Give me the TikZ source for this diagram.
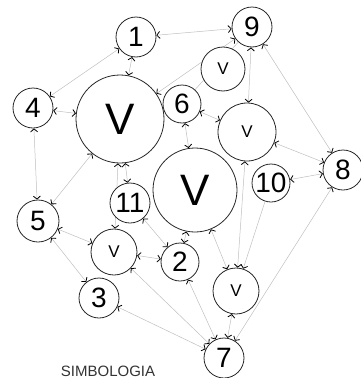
\documentclass[tikz,border=0pt]{standalone}
\usepackage{fontspec}
\setmainfont{Liberation Sans}
\usetikzlibrary{arrows.meta,backgrounds}
\begin{document}
\begin{tikzpicture}[x=1pt,y=-1pt,
  vtx/.style={circle,draw=black!85,line width=0.8pt,fill=white,inner sep=0pt,minimum size=#1},
  num/.style={font=\fontsize{28}{28}\selectfont},
  bigv/.style={font=\fontsize{44}{44}\selectfont},
  smallv/.style={font=\fontsize{17}{17}\selectfont},
  tip/.tip={Straight Barb[color=black,length=3pt,width=7pt,line width=0.8pt]},
  link/.style={draw=black!25,line width=0.5pt,tip-tip},
  onelink/.style={draw=black!25,line width=0.5pt,-tip},
  plain/.style={draw=black!25,line width=0.5pt}]
\useasboundingbox (0,0) rectangle (360,378);
\node[vtx=40pt,num] (n1) at (136,37) {1};
\node[vtx=40pt,num] (n9) at (252,27) {9};
\node[vtx=44pt,smallv] (v1) at (223,69) {V};
\node[vtx=40pt,num] (n4) at (33,108) {4};
\node[vtx=88pt,bigv] (V1) at (120,119) {V};
\node[vtx=38pt,num] (n6) at (182,104) {6};
\node[vtx=58pt,smallv] (v2) at (247,132) {V};
\node[vtx=40pt,num] (n8) at (343,170) {8};
\node[vtx=38pt,num] (n10) at (271,183) {10};
\node[vtx=84pt,bigv] (V2) at (195,190) {V};
\node[vtx=40pt,num] (n11) at (130,203) {11};
\node[vtx=42pt,num] (n5) at (38,221) {5};
\node[vtx=46pt,smallv] (v3) at (114,252) {V};
\node[vtx=38pt,num] (n2) at (180,262) {2};
\node[vtx=40pt,num] (n3) at (99,298) {3};
\node[vtx=46pt,smallv] (v4) at (236,291) {V};
\node[vtx=40pt,num] (n7) at (224,358) {7};
\node[font=\fontsize{15}{15}\selectfont,text=black!80] (simb) at (108,371) {SIMBOLOGIA};
\begin{scope}[on background layer]
\draw[plain] (n9) -- (n6);
\draw[link] (n1) -- (n9);
\draw[link] (n1) -- (n4);
\draw[link] (n1) -- (V1);
\draw[link] (n9) -- (V1);
\draw[link] (n4) -- (V1);
\draw[link] (n4) -- (n5);
\draw[link] (n5) -- (V1);
\draw[link] (n5) -- (v3);
\draw[link] (n5) -- (n3);
\draw[link] (v3) -- (V1);
\draw[link] (V1) -- (n11);
\draw[link] (n11) -- (n2);
\draw[link] (v3) -- (n2);
\draw[link] (V2) -- (n2);
\draw[link] (n6) -- (V2);
\draw[link] (n6) -- (v2);
\draw[link] (n9) -- (v2);
\draw[link] (n9) -- (n8);
\draw[link] (v2) -- (n8);
\draw[link] (n8) -- (n10);
\draw[link] (V2) -- (v4);
\draw[link] (v2) -- (v4);
\draw[onelink] (n10) -- (v4);
\draw[link] (n2) -- (n7);
\draw[link] (v3) -- (n7);
\draw[link] (n3) -- (n7);
\draw[link] (v4) -- (n7);
\draw[link] (n8) -- (n7);
\end{scope}
\end{tikzpicture}
\end{document}
